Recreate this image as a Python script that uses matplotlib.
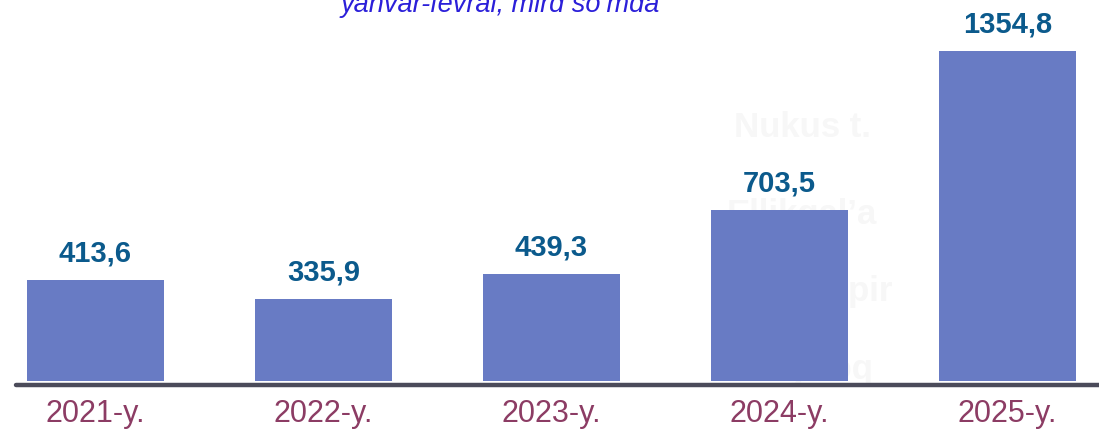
import matplotlib
matplotlib.use("Agg")
import matplotlib.pyplot as plt
import numpy as np

# ── Data ─────────────────────────────────────────────────────────────────────
years = ["2021-y.", "2022-y.", "2023-y.", "2024-y.", "2025-y."]
values = [413.6, 335.9, 439.3, 703.5, 1354.8]
value_labels = ["413,6", "335,9", "439,3", "703,5", "1354,8"]
title = "yanvar-fevral, mlrd so‘mda"
# faint district names sitting behind the bars
districts = ["Nukus t.", "Ellikqal’a", "Taxtako‘pir", "Mo‘ynoq"]

# ── Palette ──────────────────────────────────────────────────────────────────
BAR = "#687bc4"
VALUE = "#0b5a8c"
TICK = "#8c3c64"
TITLE = "#2b1fd9"
AXIS = "#4b4b5a"
GHOST = "#f7f7f7"

W, H = 1099, 432
fig = plt.figure(figsize=(W / 100, H / 100), dpi=100)
ax = fig.add_axes([16 / W, 1 - 385 / H, 1 - 16 / W, 385 / H])

x = np.arange(len(years))
ax.set_xlim(-0.348, 4.402)
ax.set_ylim(-16.4, 1564)

# ghost labels (drawn first so the bars cover them)
for name, yv in zip(districts, [1000, 645, 330, 10]):
    ax.text(3.1, yv, name, ha="center", va="baseline", fontsize=25,
            fontweight="bold", color=GHOST, family="Liberation Sans", zorder=1)

bars = ax.bar(x, values, width=0.6, color=BAR, zorder=2)

for rect, lbl in zip(bars, value_labels):
    ax.annotate(lbl, (rect.get_x() + rect.get_width() / 2, rect.get_height()),
                xytext=(0, 9), textcoords="offset points",
                ha="center", va="bottom", fontsize=21, fontweight="bold",
                color=VALUE, family="Liberation Sans")

for s in ["top", "left", "right"]:
    ax.spines[s].set_visible(False)
ax.spines["bottom"].set_color(AXIS)
ax.spines["bottom"].set_linewidth(3.2)
ax.spines["bottom"].set_capstyle("round")

ax.set_yticks([])
ax.set_xticks(x)
ax.set_xticklabels(years, fontsize=22, color=TICK, family="Liberation Sans")
ax.tick_params(axis="x", length=0, pad=10)

fig.text(500 / W, 1 - 12 / H, title, ha="center", va="baseline",
         fontsize=19.5, style="italic", color=TITLE, family="Liberation Sans")

fig.savefig("out.png", dpi=100)
